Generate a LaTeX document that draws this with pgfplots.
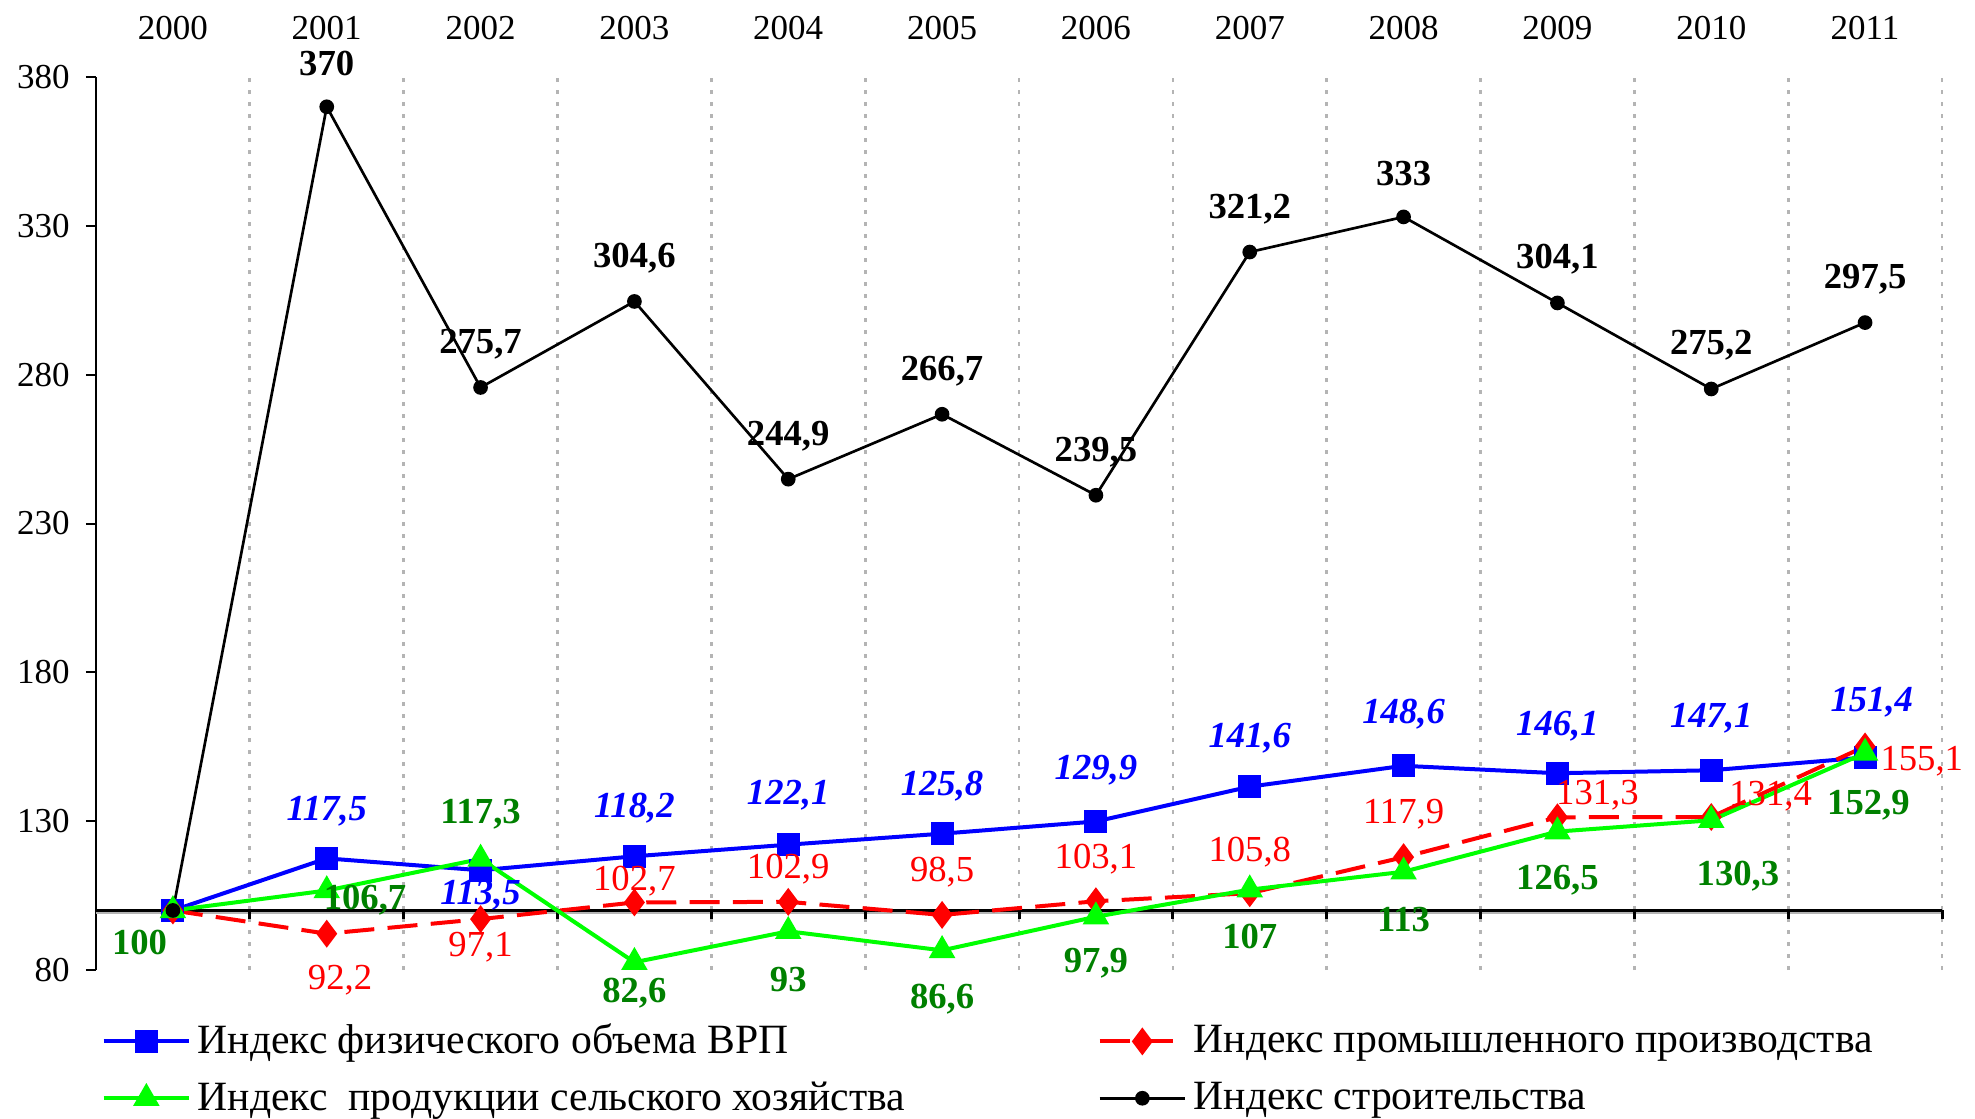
\documentclass[border=0pt]{standalone}
\usepackage{fontspec}
\setmainfont{Liberation Serif}
\usepackage{pgfplots}
\pgfplotsset{compat=1.18}
\usepackage{pgfplotstable}

\definecolor{cblue}{RGB}{0,0,255}
\definecolor{cred}{RGB}{255,0,0}
\definecolor{cgreen}{RGB}{0,255,0}
\definecolor{dgreen}{RGB}{0,128,0}
\definecolor{gridgray}{RGB}{180,180,180}

\pgfplotstableread{
x y lab dx dy
0 100 {} 0 0
1 117.5 117,5 0 14.1
2 113.5 113,5 0 -7.5
3 118.2 118,2 0 14.5
4 122.1 122,1 0 14.7
5 125.8 125,8 0 14.2
6 129.9 129,9 0 15.3
7 141.6 141,6 0 14.4
8 148.6 148,6 0 15.6
9 146.1 146,1 0 14.1
10 147.1 147,1 0 15.6
11 151.4 151,4 2 16.5
}\tblue

\pgfplotstableread{
x y lab dx dy
0 100 {} 0 0
1 92.2 92,2 4 -14
2 97.1 97,1 0 -8.5
3 102.7 102,7 0 6.3
4 102.9 102,9 0 9.7
5 98.5 98,5 0 12.7
6 103.1 103,1 0 12.6
7 105.8 105,8 0 12.4
8 117.9 117,9 0 13
9 131.3 131,3 12 6.7
10 131.4 131,4 17.8 6.3
11 155.1 155,1 17 -4.5
}\tred

\pgfplotstableread{
x y lab dx dy
0 100 100 -10 -9.5
1 106.7 106,7 11.5 -3
2 117.3 117,3 0 13.3
3 82.6 82,6 0 -9.3
4 93 93 0 -14.5
5 86.6 86,6 0 -14.5
6 97.9 97,9 0 -14
7 107 107 0 -14
8 113 113 0 -14.3
9 126.5 126,5 0 -14.6
10 130.3 130,3 8 -16.7
11 152.9 152,9 1 -15.7
}\tgreen

\pgfplotstableread{
x y lab dx dy
0 100 {} 0 0
1 370 370 0 13
2 275.7 275,7 0 13
3 304.6 304,6 0 13
4 244.9 244,9 0 13
5 266.7 266,7 0 13
6 239.5 239,5 0 13
7 321.2 321,2 0 13
8 333 333 0 13
9 304.1 304,1 0 13
10 275.2 275,2 0 13
11 297.5 297,5 0 13
}\tblack

\def\labdx{0}
\def\labdy{0}
\pgfplotsset{
  lbl/.style={
    visualization depends on={\thisrow{dx}\as\labdx},
    visualization depends on={\thisrow{dy}\as\labdy},
    nodes near coords={\pgfplotspointmeta},
    point meta=explicit symbolic,
    every node near coord/.append style={anchor=center, xshift=\labdx pt, yshift=\labdy pt, inner sep=0pt},
  }
}

\begin{document}
\begin{tikzpicture}
\useasboundingbox (-28.8pt,-44.4pt) rectangle (563.7pt,291pt);
\begin{axis}[
  scale only axis,
  width=553.8pt, height=267.9pt,
  xmin=-0.5, xmax=11.5,
  ymin=80, ymax=380,
  clip=false,
  axis y line*=left,
  axis x line*=top,
  x axis line style={draw=none},
  y axis line style={line width=0.6pt},
  xtick={0,...,11},
  xticklabels={2000,2001,2002,2003,2004,2005,2006,2007,2008,2009,2010,2011},
  xtick style={draw=none},
  minor xtick={0.5,1.5,...,11.5},
  minor tick length=0pt,
  xminorgrids=true,
  minor grid style={gridgray, line width=0.8pt, dash pattern=on 1.3pt off 2.3pt},
  ytick={80,130,180,230,280,330,380},
  ytick align=outside,
  major tick length=3pt,
  ytick style={line width=0.6pt, black},
  tick label style={font=\fontsize{10.5}{12}\selectfont},
  /pgf/number format/assume math mode=true,
  xticklabel style={anchor=base, yshift=11.25pt},
  yticklabel style={xshift=-1.4pt},
  legend columns=2,
  legend cell align=left,
  legend style={draw=none, fill=none, at={(0,0)}, anchor=north west,
    xshift=1.5pt, yshift=-14pt, inner sep=0pt,
    font=\fontsize{12.5}{15}\selectfont, row sep=2.8pt,
    /tikz/every even column/.append style={column sep=0pt}},
  legend image code/.code={
    \draw[mark repeat=2,mark phase=2,#1] plot coordinates {(0cm,0cm) (0.45cm,0cm) (0.9cm,0cm)};
  },
]
\draw[gridgray, line width=0.6pt] ([yshift=-0.9pt]axis cs:-0.5,100) -- ([yshift=-0.9pt]axis cs:11.5,100);
\draw[black, line width=0.9pt] (axis cs:-0.5,100) -- (axis cs:11.5,100);
\pgfplotsinvokeforeach{0.5,1.5,2.5,3.5,4.5,5.5,6.5,7.5,8.5,9.5,10.5,11.5}{
  \draw[black, line width=0.9pt] (axis cs:#1,100) -- ([yshift=-2.6pt]axis cs:#1,100);
}

\addplot[cblue, line width=1.2pt, mark=square*, mark size=2.85pt, mark options={solid}, lbl,
  nodes near coords style={font=\fontsize{11}{13}\selectfont\bfseries\itshape, text=cblue}]
  table[x=x, y=y, meta=lab] {\tblue};
\addlegendentry{\makebox[268pt][l]{Индекс физического объема ВРП}}

\addplot[cred, line width=1.2pt, dash pattern=on 9pt off 4pt, mark=diamond*, mark size=3.2pt, mark options={solid}, lbl,
  nodes near coords style={font=\fontsize{11}{13}\selectfont, text=cred}]
  table[x=x, y=y, meta=lab] {\tred};
\addlegendentry{Индекс промышленного производства}

\addplot[cgreen, line width=1.2pt, mark=triangle*, mark size=3.4pt, mark options={solid}, lbl,
  nodes near coords style={font=\fontsize{11}{13}\selectfont\bfseries, text=dgreen}]
  table[x=x, y=y, meta=lab] {\tgreen};
\addlegendentry{\makebox[268pt][l]{Индекс\ \ продукции сельского хозяйства}}

\addplot[black, line width=0.8pt, mark=*, mark size=1.8pt, mark options={solid}, lbl,
  nodes near coords style={font=\fontsize{11}{13}\selectfont\bfseries, text=black}]
  table[x=x, y=y, meta=lab] {\tblack};
\addlegendentry{Индекс строительства}
\end{axis}
\end{tikzpicture}
\end{document}
